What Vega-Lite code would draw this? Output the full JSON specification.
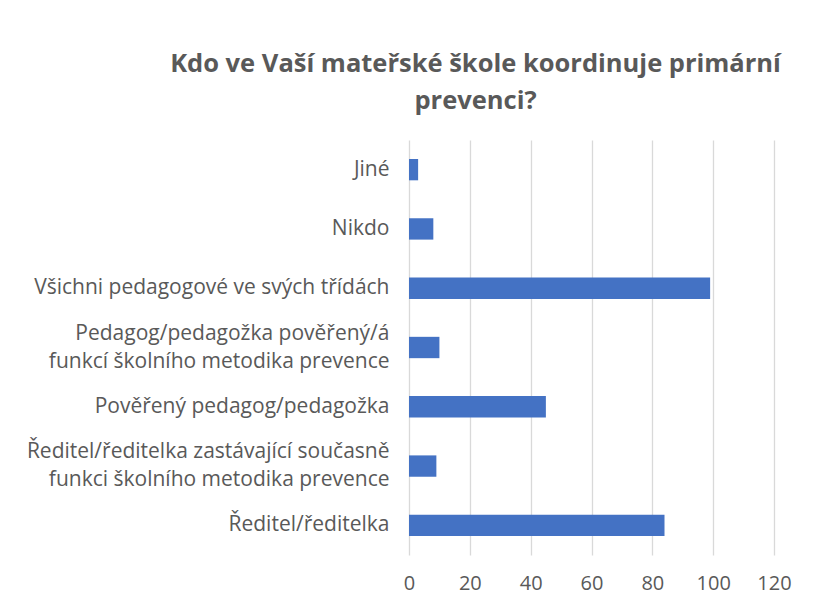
{
  "$schema": "https://vega.github.io/schema/vega-lite/v6.json",
  "width": 365,
  "height": 415,
  "autosize": {"type": "none"},
  "padding": {"left": 409, "top": 140, "right": 40, "bottom": 57},
  "background": "white",
  "title": {
    "text": ["Kdo ve Vaší mateřské škole koordinuje primární", "prevenci?"],
    "font": "Open Sans",
    "fontSize": 25.5,
    "fontWeight": "bold",
    "color": "#595959",
    "anchor": "middle",
    "dx": -116,
    "offset": 26,
    "lineHeight": 37
  },
  "data": {
    "values": [
      {"kategorie": "Jiné", "pocet": 3},
      {"kategorie": "Nikdo", "pocet": 8},
      {"kategorie": "Všichni pedagogové ve svých třídách", "pocet": 99},
      {"kategorie": "Pedagog/pedagožka pověřený/á\nfunkcí školního metodika prevence", "pocet": 10},
      {"kategorie": "Pověřený pedagog/pedagožka", "pocet": 45},
      {"kategorie": "Ředitel/ředitelka zastávající současně\nfunkci školního metodika prevence", "pocet": 9},
      {"kategorie": "Ředitel/ředitelka", "pocet": 84}
    ]
  },
  "mark": {"type": "bar", "color": "#4472c4"},
  "encoding": {
    "y": {
      "field": "kategorie",
      "type": "nominal",
      "sort": null,
      "title": null,
      "scale": {"paddingInner": 0.64, "paddingOuter": 0.32},
      "axis": {
        "domain": false,
        "ticks": false,
        "grid": false,
        "labelFont": "Open Sans",
        "labelFontSize": 21,
        "labelColor": "#595959",
        "labelPadding": 20,
        "labelLimit": 420,
        "labelLineHeight": 28,
        "labelOffset": {"condition": {"test": "indexof(datum.value, '\\n') >= 0", "value": -14}, "value": 0},
        "labelExpr": "split(datum.label, '\\n')"
      }
    },
    "x": {
      "field": "pocet",
      "type": "quantitative",
      "title": null,
      "scale": {"domain": [0, 120]},
      "axis": {
        "values": [0, 20, 40, 60, 80, 100, 120],
        "domain": false,
        "ticks": false,
        "grid": true,
        "gridColor": "#d9d9d9",
        "gridWidth": 1.3,
        "labelFlush": false,
        "labelOverlap": false,
        "labelFont": "Open Sans",
        "labelFontSize": 20,
        "labelColor": "#595959",
        "labelPadding": 18
      }
    }
  },
  "config": {"view": {"stroke": null}}
}
